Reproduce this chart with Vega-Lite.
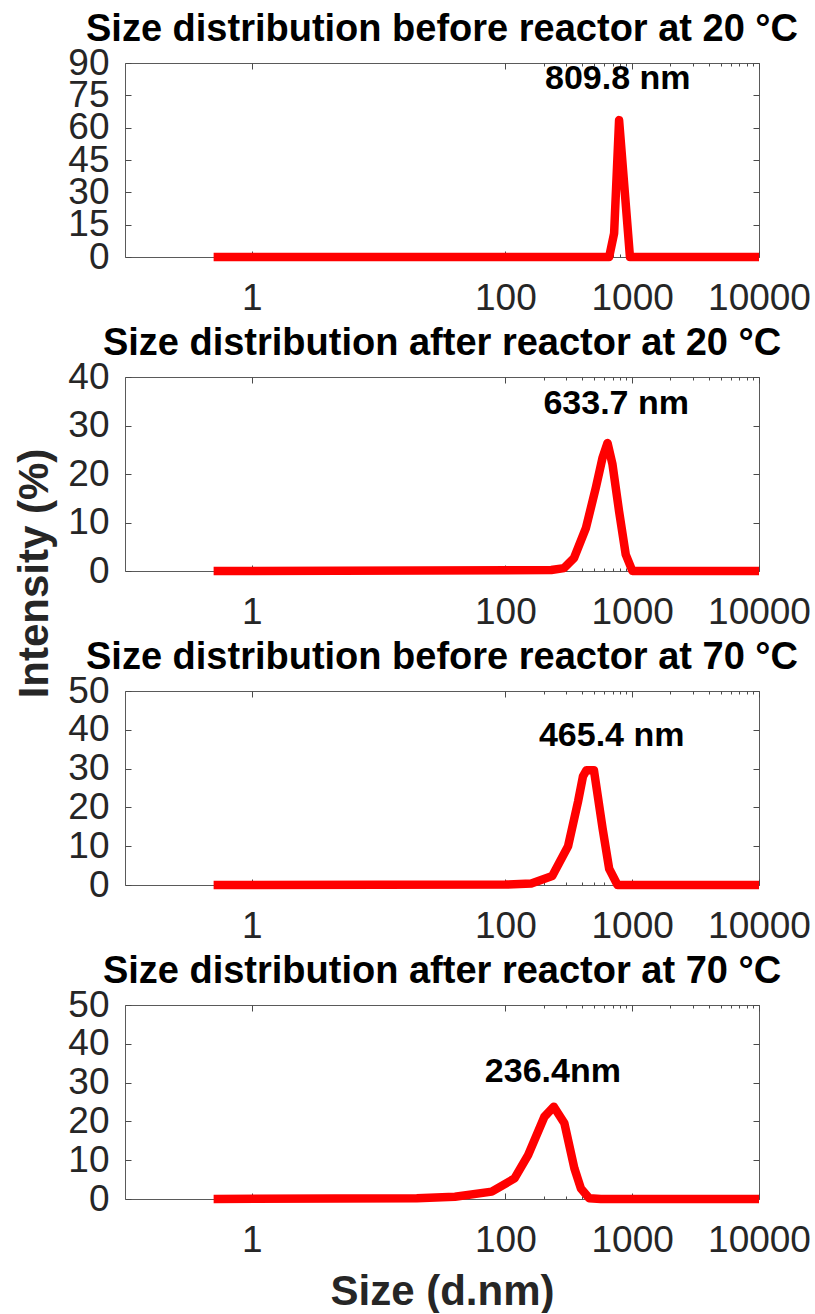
{
  "$schema": "https://vega.github.io/schema/vega-lite/v6.json",
  "padding": {"left": 12, "top": 10, "right": 0, "bottom": 0},
  "background": "white",
  "datasets": {
    "dist": [
      {"panel": "p1", "size": 0.5, "intensity": 0},
      {"panel": "p1", "size": 658, "intensity": 0},
      {"panel": "p1", "size": 720, "intensity": 11},
      {"panel": "p1", "size": 788, "intensity": 63.5},
      {"panel": "p1", "size": 960, "intensity": 0},
      {"panel": "p1", "size": 10000, "intensity": 0},
      {"panel": "p2", "size": 0.5, "intensity": 0},
      {"panel": "p2", "size": 230, "intensity": 0.2},
      {"panel": "p2", "size": 290, "intensity": 0.6},
      {"panel": "p2", "size": 348, "intensity": 2.7},
      {"panel": "p2", "size": 432, "intensity": 8.9},
      {"panel": "p2", "size": 517, "intensity": 17.2},
      {"panel": "p2", "size": 584, "intensity": 23.4},
      {"panel": "p2", "size": 639, "intensity": 26.4},
      {"panel": "p2", "size": 699, "intensity": 22},
      {"panel": "p2", "size": 788, "intensity": 12.3},
      {"panel": "p2", "size": 889, "intensity": 3.4},
      {"panel": "p2", "size": 1004, "intensity": 0},
      {"panel": "p2", "size": 10000, "intensity": 0},
      {"panel": "p3", "size": 0.5, "intensity": 0},
      {"panel": "p3", "size": 100, "intensity": 0.1},
      {"panel": "p3", "size": 160, "intensity": 0.4},
      {"panel": "p3", "size": 234, "intensity": 2.3},
      {"panel": "p3", "size": 312, "intensity": 10},
      {"panel": "p3", "size": 374, "intensity": 21.5},
      {"panel": "p3", "size": 409, "intensity": 28},
      {"panel": "p3", "size": 436, "intensity": 29.6},
      {"panel": "p3", "size": 499, "intensity": 29.6},
      {"panel": "p3", "size": 584, "intensity": 14.6},
      {"panel": "p3", "size": 658, "intensity": 4.2},
      {"panel": "p3", "size": 766, "intensity": 0},
      {"panel": "p3", "size": 10000, "intensity": 0},
      {"panel": "p4", "size": 0.5, "intensity": 0},
      {"panel": "p4", "size": 20, "intensity": 0.2},
      {"panel": "p4", "size": 40, "intensity": 0.6},
      {"panel": "p4", "size": 78, "intensity": 1.9},
      {"panel": "p4", "size": 118, "intensity": 5.3},
      {"panel": "p4", "size": 151, "intensity": 11.3},
      {"panel": "p4", "size": 203, "intensity": 21.2},
      {"panel": "p4", "size": 241, "intensity": 23.8},
      {"panel": "p4", "size": 292, "intensity": 19.5},
      {"panel": "p4", "size": 350, "intensity": 7.9},
      {"panel": "p4", "size": 394, "intensity": 2.7},
      {"panel": "p4", "size": 458, "intensity": 0.2},
      {"panel": "p4", "size": 566, "intensity": 0},
      {"panel": "p4", "size": 10000, "intensity": 0}
    ],
    "ann": [
      {"panel": "p1", "size": 770, "intensity": 82.4, "label": "809.8 nm"},
      {"panel": "p2", "size": 748, "intensity": 34.5, "label": "633.7 nm"},
      {"panel": "p3", "size": 689, "intensity": 38.3, "label": "465.4 nm"},
      {"panel": "p4", "size": 237, "intensity": 32.7, "label": "236.4nm"}
    ]
  },
  "bounds": "flush",
  "spacing": 120,
  "vconcat": [
    {
      "title": {"text": "Size distribution before reactor at 20 °C"},
      "width": 634, "height": 194,
      "resolve": {"axis": {"x": "independent", "y": "independent"}},
      "layer": [
        {
          "data": {"name": "dist"},
          "transform": [{"filter": "datum.panel == 'p1'"}],
          "mark": {"type": "line", "color": "#ff0000", "strokeWidth": 8.5, "strokeJoin": "round"},
          "encoding": {
            "x": {"field": "size", "type": "quantitative", "scale": {"type": "log", "domain": [0.1, 10000], "nice": false},
              "axis": {"orient": "bottom", "title": null, "format": "d", "labelPadding": 29, "values": [1, 100, 200, 300, 400, 500, 600, 700, 800, 900, 1000, 2000, 3000, 4000, 5000, 6000, 7000, 8000, 9000, 10000],
                "labelExpr": "indexof([1,100,1000,10000], datum.value) >= 0 ? datum.label : ''",
                "tickSize": {"condition": {"test": "indexof([1,100,1000,10000], datum.value) >= 0", "value": -6}, "value": -3}}},
            "y": {"field": "intensity", "type": "quantitative", "scale": {"domain": [0, 90], "nice": false},
              "axis": {"orient": "left", "title": null, "format": "d", "labelPadding": 22, "values": [0, 15, 30, 45, 60, 75, 90], "tickSize": -6}}
          }
        },
        {
          "data": {"name": "ann"},
          "transform": [{"filter": "datum.panel == 'p1'"}],
          "mark": {"type": "text", "fontSize": 34, "fontWeight": "bold", "font": "Liberation Sans", "color": "#000000", "align": "center", "baseline": "middle"},
          "encoding": {
            "x": {"field": "size", "type": "quantitative", "scale": {"type": "log", "domain": [0.1, 10000], "nice": false},
              "axis": {"orient": "top", "title": null, "labels": false, "values": [1, 100, 200, 300, 400, 500, 600, 700, 800, 900, 1000, 2000, 3000, 4000, 5000, 6000, 7000, 8000, 9000, 10000],
                "tickSize": {"condition": {"test": "indexof([1,100,1000,10000], datum.value) >= 0", "value": -6}, "value": -3}}},
            "y": {"field": "intensity", "type": "quantitative", "scale": {"domain": [0, 90], "nice": false},
              "axis": {"orient": "right", "title": null, "labels": false, "values": [0, 15, 30, 45, 60, 75, 90], "tickSize": -6}},
            "text": {"field": "label"}
          }
        }
      ]
    },
    {
      "title": {"text": "Size distribution after reactor at 20 °C"},
      "width": 634, "height": 194,
      "resolve": {"axis": {"x": "independent", "y": "independent"}},
      "layer": [
        {
          "data": {"name": "dist"},
          "transform": [{"filter": "datum.panel == 'p2'"}],
          "mark": {"type": "line", "color": "#ff0000", "strokeWidth": 8.5, "strokeJoin": "round"},
          "encoding": {
            "x": {"field": "size", "type": "quantitative", "scale": {"type": "log", "domain": [0.1, 10000], "nice": false},
              "axis": {"orient": "bottom", "title": null, "format": "d", "labelPadding": 29, "values": [1, 100, 200, 300, 400, 500, 600, 700, 800, 900, 1000, 2000, 3000, 4000, 5000, 6000, 7000, 8000, 9000, 10000],
                "labelExpr": "indexof([1,100,1000,10000], datum.value) >= 0 ? datum.label : ''",
                "tickSize": {"condition": {"test": "indexof([1,100,1000,10000], datum.value) >= 0", "value": -6}, "value": -3}}},
            "y": {"field": "intensity", "type": "quantitative", "scale": {"domain": [0, 40], "nice": false},
              "axis": {"orient": "left", "title": "Intensity (%)", "format": "d", "labelPadding": 22, "values": [0, 10, 20, 30, 40], "tickSize": -6,
                "titleX": -91, "titleY": 196, "titleAlign": "center", "titleBaseline": "middle", "titleAngle": 270}}
          }
        },
        {
          "data": {"name": "ann"},
          "transform": [{"filter": "datum.panel == 'p2'"}],
          "mark": {"type": "text", "fontSize": 34, "fontWeight": "bold", "font": "Liberation Sans", "color": "#000000", "align": "center", "baseline": "middle"},
          "encoding": {
            "x": {"field": "size", "type": "quantitative", "scale": {"type": "log", "domain": [0.1, 10000], "nice": false},
              "axis": {"orient": "top", "title": null, "labels": false, "values": [1, 100, 200, 300, 400, 500, 600, 700, 800, 900, 1000, 2000, 3000, 4000, 5000, 6000, 7000, 8000, 9000, 10000],
                "tickSize": {"condition": {"test": "indexof([1,100,1000,10000], datum.value) >= 0", "value": -6}, "value": -3}}},
            "y": {"field": "intensity", "type": "quantitative", "scale": {"domain": [0, 40], "nice": false},
              "axis": {"orient": "right", "title": null, "labels": false, "values": [0, 10, 20, 30, 40], "tickSize": -6}},
            "text": {"field": "label"}
          }
        }
      ]
    },
    {
      "title": {"text": "Size distribution before reactor at 70 °C"},
      "width": 634, "height": 194,
      "resolve": {"axis": {"x": "independent", "y": "independent"}},
      "layer": [
        {
          "data": {"name": "dist"},
          "transform": [{"filter": "datum.panel == 'p3'"}],
          "mark": {"type": "line", "color": "#ff0000", "strokeWidth": 8.5, "strokeJoin": "round"},
          "encoding": {
            "x": {"field": "size", "type": "quantitative", "scale": {"type": "log", "domain": [0.1, 10000], "nice": false},
              "axis": {"orient": "bottom", "title": null, "format": "d", "labelPadding": 29, "values": [1, 100, 200, 300, 400, 500, 600, 700, 800, 900, 1000, 2000, 3000, 4000, 5000, 6000, 7000, 8000, 9000, 10000],
                "labelExpr": "indexof([1,100,1000,10000], datum.value) >= 0 ? datum.label : ''",
                "tickSize": {"condition": {"test": "indexof([1,100,1000,10000], datum.value) >= 0", "value": -6}, "value": -3}}},
            "y": {"field": "intensity", "type": "quantitative", "scale": {"domain": [0, 50], "nice": false},
              "axis": {"orient": "left", "title": null, "format": "d", "labelPadding": 22, "values": [0, 10, 20, 30, 40, 50], "tickSize": -6}}
          }
        },
        {
          "data": {"name": "ann"},
          "transform": [{"filter": "datum.panel == 'p3'"}],
          "mark": {"type": "text", "fontSize": 34, "fontWeight": "bold", "font": "Liberation Sans", "color": "#000000", "align": "center", "baseline": "middle"},
          "encoding": {
            "x": {"field": "size", "type": "quantitative", "scale": {"type": "log", "domain": [0.1, 10000], "nice": false},
              "axis": {"orient": "top", "title": null, "labels": false, "values": [1, 100, 200, 300, 400, 500, 600, 700, 800, 900, 1000, 2000, 3000, 4000, 5000, 6000, 7000, 8000, 9000, 10000],
                "tickSize": {"condition": {"test": "indexof([1,100,1000,10000], datum.value) >= 0", "value": -6}, "value": -3}}},
            "y": {"field": "intensity", "type": "quantitative", "scale": {"domain": [0, 50], "nice": false},
              "axis": {"orient": "right", "title": null, "labels": false, "values": [0, 10, 20, 30, 40, 50], "tickSize": -6}},
            "text": {"field": "label"}
          }
        }
      ]
    },
    {
      "title": {"text": "Size distribution after reactor at 70 °C"},
      "width": 634, "height": 194,
      "resolve": {"axis": {"x": "independent", "y": "independent"}},
      "layer": [
        {
          "data": {"name": "dist"},
          "transform": [{"filter": "datum.panel == 'p4'"}],
          "mark": {"type": "line", "color": "#ff0000", "strokeWidth": 8.5, "strokeJoin": "round"},
          "encoding": {
            "x": {"field": "size", "type": "quantitative", "scale": {"type": "log", "domain": [0.1, 10000], "nice": false},
              "axis": {"orient": "bottom", "title": "Size (d.nm)", "format": "d", "labelPadding": 29, "values": [1, 100, 200, 300, 400, 500, 600, 700, 800, 900, 1000, 2000, 3000, 4000, 5000, 6000, 7000, 8000, 9000, 10000],
                "labelExpr": "indexof([1,100,1000,10000], datum.value) >= 0 ? datum.label : ''",
                "tickSize": {"condition": {"test": "indexof([1,100,1000,10000], datum.value) >= 0", "value": -6}, "value": -3},
                "titleX": 317, "titleY": 105, "titleAlign": "center", "titleBaseline": "alphabetic"}},
            "y": {"field": "intensity", "type": "quantitative", "scale": {"domain": [0, 50], "nice": false},
              "axis": {"orient": "left", "title": null, "format": "d", "labelPadding": 22, "values": [0, 10, 20, 30, 40, 50], "tickSize": -6}}
          }
        },
        {
          "data": {"name": "ann"},
          "transform": [{"filter": "datum.panel == 'p4'"}],
          "mark": {"type": "text", "fontSize": 34, "fontWeight": "bold", "font": "Liberation Sans", "color": "#000000", "align": "center", "baseline": "middle"},
          "encoding": {
            "x": {"field": "size", "type": "quantitative", "scale": {"type": "log", "domain": [0.1, 10000], "nice": false},
              "axis": {"orient": "top", "title": null, "labels": false, "values": [1, 100, 200, 300, 400, 500, 600, 700, 800, 900, 1000, 2000, 3000, 4000, 5000, 6000, 7000, 8000, 9000, 10000],
                "tickSize": {"condition": {"test": "indexof([1,100,1000,10000], datum.value) >= 0", "value": -6}, "value": -3}}},
            "y": {"field": "intensity", "type": "quantitative", "scale": {"domain": [0, 50], "nice": false},
              "axis": {"orient": "right", "title": null, "labels": false, "values": [0, 10, 20, 30, 40, 50], "tickSize": -6}},
            "text": {"field": "label"}
          }
        }
      ]
    }
  ],
  "config": {
    "font": "Liberation Sans",
    "view": {"stroke": "#5a5a5a", "strokeWidth": 1},
    "axis": {
      "grid": false, "domain": false, "tickColor": "#4a4a4a", "tickWidth": 1,
      "labelColor": "#262626", "labelFont": "Liberation Sans", "labelFontSize": 37,
      "labelFlush": false, "labelOverlap": false,
      "titleFont": "Liberation Sans", "titleFontSize": 42, "titleFontWeight": "bold", "titleColor": "#262626"
    },
    "title": {"font": "Liberation Sans", "fontSize": 38, "fontWeight": "bold", "color": "#000000", "anchor": "middle", "baseline": "alphabetic", "offset": -5}
  }
}
